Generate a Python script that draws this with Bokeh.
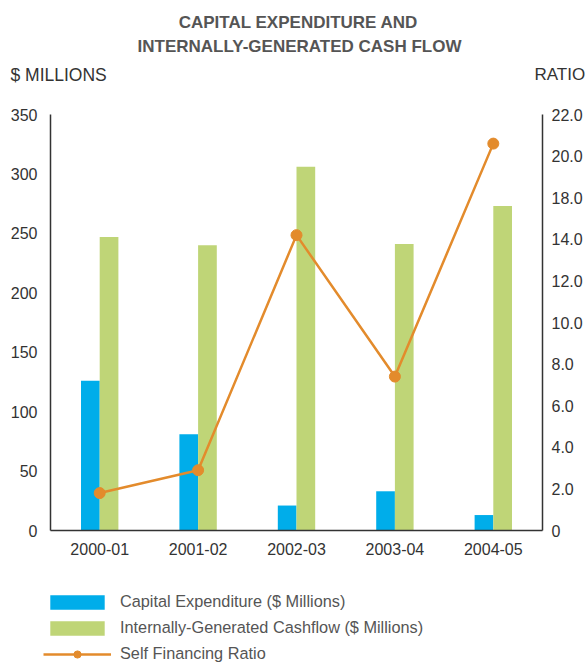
import numpy as np
from bokeh.plotting import figure
from bokeh.models import (ColumnDataSource, Range1d, LinearAxis, FixedTicker,
                          Label, Legend, LegendItem)
from bokeh.transform import dodge
from bokeh.embed import file_html
from bokeh.resources import INLINE

# ---- data ----
years = ["2000-01", "2001-02", "2002-03", "2003-04", "2004-05"]
capex = [126, 81, 21, 33, 13]
cashflow = [247, 240, 306, 241, 273]
ratio = [1.8, 2.9, 14.4, 7.4, 20.6]

left_ticks = [0, 50, 100, 150, 200, 250, 300, 350]
ratio_tick_labels = ["0", "2.0", "4.0", "6.0", "8.0", "10.0", "12.0", "14.0", "18.0", "20.0", "22.0"]
ratio_tick_values = [0, 2, 4, 6, 8, 10, 12, 14, 18, 20, 22]

series_names = ["Capital Expenditure ($ Millions)",
                "Internally-Generated Cashflow ($ Millions)",
                "Self Financing Ratio"]
title_lines = ["CAPITAL EXPENDITURE AND", "INTERNALLY-GENERATED CASH FLOW"]
left_axis_title = "$ MILLIONS"
right_axis_title = "RATIO"

BLUE = "#00ADEA"
GREEN = "#BFD577"
ORANGE = "#E38B2C"
TXT = "#333333"
GREY = "#555555"
FONT = "Liberation Sans"

# ---- layout (pixels) ----
W, H = 587, 662
PL, PR, PT, PB = 50, 542, 114, 530       # plot area edges on the canvas
n = len(years)
px_x = (PR - PL) / n                      # pixels per category
px_y = (PB - PT) / left_ticks[-1]         # pixels per $M
n_rt = len(ratio_tick_labels) - 1
px_r = (PB - PT) / n_rt                   # pixels per ratio tick step

x_lo = 0.5 - PL / px_x
x_hi = n + 0.5 + (W - PR) / px_x
y_lo = -(H - PB) / px_y
y_hi = left_ticks[-1] + PT / px_y
r_lo = -(H - PB) / px_r
r_hi = n_rt + PT / px_r

xpos = list(range(1, n + 1))
ratio_pos = list(np.interp(ratio, ratio_tick_values, np.arange(len(ratio_tick_values))))

src = ColumnDataSource(dict(x=xpos, year=years, capex=capex, cashflow=cashflow,
                            ratio=ratio, ratio_pos=ratio_pos))

p = figure(width=W, height=H, x_range=Range1d(x_lo, x_hi), y_range=Range1d(y_lo, y_hi),
           output_backend="svg", toolbar_location=None,
           x_axis_location=None, y_axis_location=None,
           min_border=0, min_border_left=0, min_border_right=0, min_border_top=0, min_border_bottom=0)
p.extra_y_ranges = {"ratio": Range1d(r_lo, r_hi)}
p.outline_line_color = None
p.grid.visible = False

BW = 0.19
b1 = p.vbar(x=dodge("x", -BW / 2), top="capex", width=BW, source=src, fill_color=BLUE, line_color=None)
b2 = p.vbar(x=dodge("x", BW / 2), top="cashflow", width=BW, source=src, fill_color=GREEN, line_color=None)
ln = p.line(x="x", y="ratio_pos", y_range_name="ratio", source=src, line_color=ORANGE, line_width=2.5)
sc = p.scatter(x="x", y="ratio_pos", y_range_name="ratio", source=src, size=11,
               fill_color=ORANGE, line_color=ORANGE)


def style(ax, standoff):
    ax.axis_line_color = TXT
    ax.axis_line_width = 1.5
    ax.major_tick_line_color = None
    ax.minor_tick_line_color = None
    ax.major_tick_out = 0
    ax.major_tick_in = 0
    ax.minor_tick_out = 0
    ax.minor_tick_in = 0
    ax.major_label_text_font = FONT
    ax.major_label_text_font_size = "16px"
    ax.major_label_text_color = TXT
    ax.major_label_standoff = standoff


xax = LinearAxis(ticker=FixedTicker(ticks=xpos), major_label_overrides={v: s for v, s in zip(xpos, years)},
                 bounds=(0.5, n + 0.5), fixed_location=0)
style(xax, 12)
p.add_layout(xax, "below")

lax = LinearAxis(ticker=FixedTicker(ticks=left_ticks), bounds=(0, left_ticks[-1]), fixed_location=0.5)
style(lax, 13)
p.add_layout(lax, "left")

rax = LinearAxis(y_range_name="ratio", ticker=FixedTicker(ticks=list(range(n_rt + 1))),
                 major_label_overrides={i: l for i, l in enumerate(ratio_tick_labels)},
                 bounds=(0, n_rt), fixed_location=n + 0.5)
style(rax, 9)
p.add_layout(rax, "right")


def lab(text, cx, cy, align="left", size="17px", style_="normal", color=GREY):
    p.add_layout(Label(x=cx, y=H - cy, x_units="screen", y_units="screen", text=text,
                       text_align=align, text_baseline="middle", text_font=FONT,
                       text_font_size=size, text_font_style=style_, text_color=color))


lab(title_lines[0], 298, 22, "center", "17px", "bold")
lab(title_lines[1], 299, 46, "center", "17px", "bold")
lab(left_axis_title, 10, 74, "left", "17.5px", "normal", TXT)
lab(right_axis_title, 534, 74, "left", "17px", "normal", TXT)

legend = Legend(items=[
    LegendItem(label=series_names[0], renderers=[b1]),
    LegendItem(label=series_names[1], renderers=[b2]),
    LegendItem(label=series_names[2], renderers=[ln, sc]),
], location=(43, H - 663), orientation="vertical", glyph_width=68, glyph_height=18,
    label_height=18, spacing=7, padding=0, margin=0, label_standoff=9, border_line_color=None,
    background_fill_alpha=0, label_text_font=FONT, label_text_font_size="16.3px",
    label_text_color=GREY)
p.add_layout(legend, "center")

open("out.html", "w").write(file_html(p, INLINE))
